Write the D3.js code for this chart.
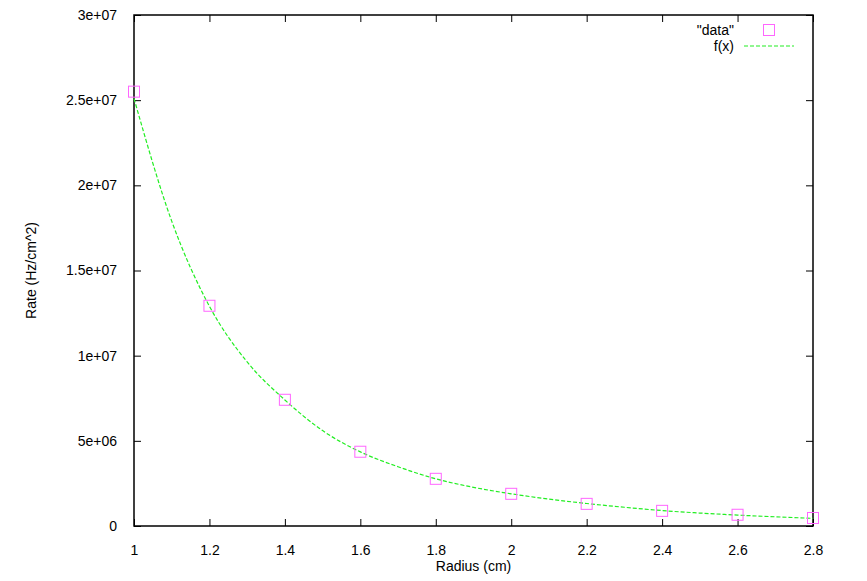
<!DOCTYPE html>
<html>
<head>
<meta charset="utf-8">
<script src="https://cdn.jsdelivr.net/npm/d3@7"></script>
<style>
  body { margin: 0; background: #fff; }
  svg { display: block; }
  text { font-family: "Liberation Sans", Arial, Helvetica, sans-serif; font-size: 14px; fill: #000; }
</style>
</head>
<body>
<svg id="chart" width="867" height="581"></svg>
<script>
// Measured data points (Radius in cm, Rate in Hz/cm^2)
const dataX = [1.0, 1.2, 1.4, 1.6, 1.8, 2.0, 2.2, 2.4, 2.6, 2.8];
const dataY = [2.55e7, 1.293e7, 7.41e6, 4.36e6, 2.77e6, 1.89e6, 1.30e6, 8.9e5, 6.6e5, 4.7e5];

// Fit curve f(x)
const fitX = [1.0, 1.1, 1.2, 1.3, 1.4, 1.5, 1.6, 1.7, 1.8, 1.9, 2.0, 2.1, 2.2, 2.3, 2.4, 2.5, 2.6, 2.7, 2.8];
const fitY = [2.51e7, 1.79e7, 1.29e7, 9.63e6, 7.4e6, 5.6e6, 4.35e6, 3.48e6, 2.77e6, 2.27e6, 1.89e6, 1.58e6, 1.32e6, 1.10e6, 9.05e5, 7.6e5, 6.4e5, 5.4e5, 4.5e5];

// Tick values and labels
const xTicks = [1, 1.2, 1.4, 1.6, 1.8, 2, 2.2, 2.4, 2.6, 2.8];
const xTickLabels = ["1", "1.2", "1.4", "1.6", "1.8", "2", "2.2", "2.4", "2.6", "2.8"];
const yTicks = [0, 5e6, 1e7, 1.5e7, 2e7, 2.5e7, 3e7];
const yTickLabels = ["0", "5e+06", "1e+07", "1.5e+07", "2e+07", "2.5e+07", "3e+07"];

const legendLabels = ["\"data\"", "f(x)"];
const xTitle = "Radius (cm)";
const yTitle = "Rate (Hz/cm^2)";

(function () {
const svg = d3.select("#chart");
const L = 134, R = 813, T = 15, B = 526;

const x = d3.scaleLinear().domain([1, 2.8]).range([L, R]);
const y = d3.scaleLinear().domain([0, 3e7]).range([B, T]);

const tickLen = 7;

// Axes (ticks inward, mirrored)
const gBottom = svg.append("g").attr("transform", `translate(0,${B})`)
  .call(d3.axisBottom(x).tickValues(xTicks).tickSizeInner(-tickLen).tickSizeOuter(0)
    .tickPadding(tickLen + 12).tickFormat((d, i) => xTickLabels[i]));
const gTop = svg.append("g").attr("transform", `translate(0,${T})`)
  .call(d3.axisTop(x).tickValues(xTicks).tickSizeInner(-tickLen).tickSizeOuter(0).tickFormat(""));
const gLeft = svg.append("g").attr("transform", `translate(${L},0)`)
  .call(d3.axisLeft(y).tickValues(yTicks).tickSizeInner(-tickLen).tickSizeOuter(0)
    .tickPadding(tickLen + 10).tickFormat((d, i) => yTickLabels[i]));
const gRight = svg.append("g").attr("transform", `translate(${R},0)`)
  .call(d3.axisRight(y).tickValues(yTicks).tickSizeInner(-tickLen).tickSizeOuter(0).tickFormat(""));

[gBottom, gTop, gLeft, gRight].forEach(g => {
  g.select(".domain").remove();
  g.selectAll(".tick line").attr("stroke", "#000").attr("stroke-width", 1);
  g.selectAll("text").attr("font-size", 14).attr("font-family", "Liberation Sans, Arial, sans-serif").attr("fill", "#000");
});

// Frame
svg.append("rect").attr("x", L).attr("y", T).attr("width", R - L).attr("height", B - T)
  .attr("fill", "none").attr("stroke", "#000").attr("stroke-width", 1.5);

// Fit curve
const fitData = fitX.map((v, i) => [v, fitY[i]]);
const line = d3.line().x(d => x(d[0])).y(d => y(d[1])).curve(d3.curveMonotoneX);
svg.append("path").datum(fitData).attr("d", line)
  .attr("fill", "none").attr("stroke", "#22ee22").attr("stroke-width", 1.2)
  .attr("stroke-dasharray", "4,2");

// Data markers
const pts = dataX.map((v, i) => [v, dataY[i]]);
const sq = 11;
svg.append("g").selectAll("rect").data(pts).join("rect")
  .attr("x", d => x(d[0]) - sq / 2).attr("y", d => y(d[1]) - sq / 2)
  .attr("width", sq).attr("height", sq)
  .attr("fill", "none").attr("stroke", "#ff66ff").attr("stroke-width", 1);

// Legend
const lg = svg.append("g");
lg.append("text").attr("x", 734).attr("y", 35).attr("text-anchor", "end").text(legendLabels[0]);
lg.append("rect").attr("x", 769 - sq / 2).attr("y", 30 - sq / 2).attr("width", sq).attr("height", sq)
  .attr("fill", "none").attr("stroke", "#ff66ff").attr("stroke-width", 1);
lg.append("text").attr("x", 734).attr("y", 51).attr("text-anchor", "end").text(legendLabels[1]);
lg.append("line").attr("x1", 744).attr("x2", 794).attr("y1", 46).attr("y2", 46)
  .attr("stroke", "#22ee22").attr("stroke-width", 1.2).attr("stroke-dasharray", "4,2");

// Axis titles
svg.append("text").attr("x", (L + R) / 2).attr("y", 571).attr("text-anchor", "middle").text(xTitle);
svg.append("text").attr("transform", `translate(36,${(T + B) / 2}) rotate(-90)`)
  .attr("text-anchor", "middle").text(yTitle);
})();
</script>
</body>
</html>
